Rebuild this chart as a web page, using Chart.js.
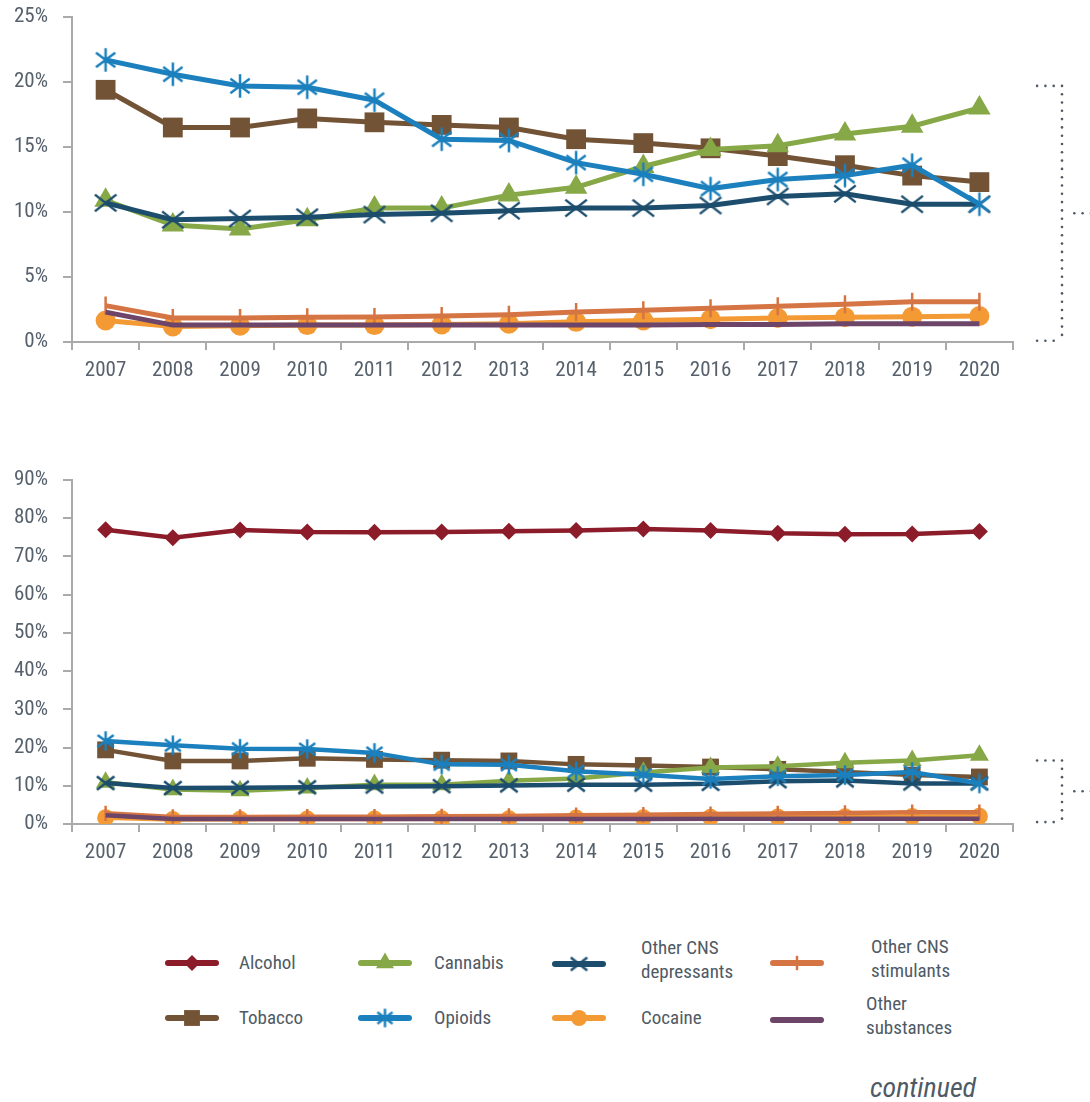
<!DOCTYPE html>
<html>
<head>
<meta charset="utf-8">
<script src="https://cdn.jsdelivr.net/npm/chart.js@4.4.0/dist/chart.umd.min.js"></script>
<style>
  html, body { margin: 0; padding: 0; background: #fff; }
  body {
    width: 1090px; height: 1102px; position: relative; overflow: hidden;
    font-family: "Liberation Sans Narrow", "Roboto Condensed", Roboto, sans-serif;
    color: #4f5a65;
  }
  .box { position: absolute; left: 0; width: 1090px; }
  #top-box { top: 0; height: 400px; }
  #bottom-box { top: 440px; height: 440px; }
  .lg-icon { position: absolute; transform: translateY(-50%); }
  .lg-text { position: absolute; transform: translateY(-50%); font-size: 19px; line-height: 24px; white-space: nowrap; }
  .continued { position: absolute; left: 870px; top: 1071px; font-size: 28px; font-style: italic; }
</style>
</head>
<body>
<div class="box" id="top-box"><canvas id="chart-top"></canvas></div>
<div class="box" id="bottom-box"><canvas id="chart-bottom"></canvas></div>
<div id="legend"></div>
<div class="continued">continued</div>
<script>
  const YEARS = ['2007', '2008', '2009', '2010', '2011', '2012', '2013', '2014', '2015', '2016', '2017', '2018', '2019', '2020'];

  const ALCOHOL = [77.0, 74.9, 76.9, 76.4, 76.3, 76.4, 76.6, 76.8, 77.2, 76.8, 76.1, 75.8, 75.9, 76.5];
  const TOBACCO = [19.4, 16.5, 16.5, 17.2, 16.9, 16.7, 16.5, 15.6, 15.3, 14.9, 14.3, 13.6, 12.8, 12.3];
  const CANNABIS = [10.9, 9.0, 8.7, 9.4, 10.3, 10.3, 11.3, 11.9, 13.5, 14.8, 15.1, 16.0, 16.6, 18.0];
  const OPIOIDS = [21.7, 20.6, 19.7, 19.6, 18.6, 15.6, 15.5, 13.8, 12.9, 11.8, 12.5, 12.8, 13.6, 10.6];
  const CNS_DEPRESSANTS = [10.7, 9.4, 9.5, 9.6, 9.8, 9.9, 10.1, 10.3, 10.3, 10.5, 11.2, 11.4, 10.6, 10.6];
  const COCAINE = [1.65, 1.2, 1.25, 1.3, 1.3, 1.35, 1.4, 1.55, 1.65, 1.75, 1.85, 1.9, 1.95, 2.0];
  const CNS_STIMULANTS = [2.8, 1.85, 1.85, 1.9, 1.92, 2.0, 2.1, 2.3, 2.45, 2.6, 2.75, 2.9, 3.1, 3.1];
  const OTHER = [2.3, 1.3, 1.3, 1.3, 1.3, 1.3, 1.3, 1.3, 1.3, 1.35, 1.35, 1.4, 1.4, 1.4];

  const TOP_MAX = 25;
  const TOP_STEP = 5;
  const BOTTOM_MAX = 90;
  const BOTTOM_STEP = 10;

  const AXIS_COLOR = '#aaaaaa';
  const TEXT_COLOR = '#56616c';
  const FONT_FAMILY = '"Liberation Sans Narrow", "Roboto Condensed", Roboto, sans-serif';

  // custom markers (asterisk for opioids, x for depressants)
  function spokeMarker(size, color, lw, withVertical, dx, dy) {
    const c = document.createElement('canvas');
    c.width = size; c.height = size;
    const g = c.getContext('2d');
    const h = size / 2;
    const r = h - lw / 2;
    g.strokeStyle = color;
    g.lineWidth = lw;
    g.lineCap = 'butt';
    g.beginPath();
    if (withVertical) { g.moveTo(h, h - r); g.lineTo(h, h + r); }
    g.moveTo(h - r * dx, h - r * dy); g.lineTo(h + r * dx, h + r * dy);
    g.moveTo(h - r * dx, h + r * dy); g.lineTo(h + r * dx, h - r * dy);
    g.stroke();
    return c;
  }

  const SERIES = [
    { key: 'alcohol', label: 'Alcohol', data: ALCOHOL, color: '#8c1c2a', order: 0 },
    { key: 'tobacco', label: 'Tobacco', data: TOBACCO, color: '#735335', order: 4 },
    { key: 'cannabis', label: 'Cannabis', data: CANNABIS, color: '#87a847', order: 3 },
    { key: 'opioids', label: 'Opioids', data: OPIOIDS, color: '#1b80bd', order: 1 },
    { key: 'depressants', label: 'Other CNS depressants', data: CNS_DEPRESSANTS, color: '#1c4d6d', order: 2 },
    { key: 'cocaine', label: 'Cocaine', data: COCAINE, color: '#f39a35', order: 7 },
    { key: 'stimulants', label: 'Other CNS stimulants', data: CNS_STIMULANTS, color: '#d67544', order: 6 },
    { key: 'other', label: 'Other substances', data: OTHER, color: '#6c4569', order: 5 },
  ];

  function markerFor(key, color, scale) {
    switch (key) {
      case 'alcohol': return { pointStyle: 'rectRot', pointRadius: 10 * scale, pointBorderWidth: 0 };
      case 'tobacco': return { pointStyle: 'rect', pointRadius: 14 * scale, pointBorderWidth: 0 };
      case 'cannabis': return { pointStyle: 'triangle', pointRadius: 13 * scale, pointBorderWidth: 0 };
      case 'opioids': return { pointStyle: spokeMarker(Math.round(26 * scale), color, 2.5, true, 0.82, 0.62), pointRadius: 12 * scale };
      case 'depressants': return { pointStyle: spokeMarker(Math.round(24 * scale), color, 2.5, false, 1, 0.78), pointRadius: 12 * scale };
      case 'cocaine': return { pointStyle: 'circle', pointRadius: 10 * scale, pointBorderWidth: 0 };
      case 'stimulants': return { pointStyle: 'line', pointRadius: 9 * scale, pointRotation: 90, pointBorderWidth: 2.5 };
      default: return { pointStyle: 'circle', pointRadius: 0, pointBorderWidth: 0 };
    }
  }

  function makeDatasets(keys, lineWidth, scale) {
    return SERIES.filter((s) => keys.includes(s.key)).map((s) => ({
      label: s.label,
      data: s.data,
      borderColor: s.color,
      backgroundColor: s.color,
      pointBackgroundColor: s.color,
      pointBorderColor: s.color,
      borderWidth: lineWidth,
      tension: 0,
      order: s.order,
      ...markerFor(s.key, s.color, scale),
    }));
  }

  // dotted bracket to the right of the plot
  const bracketPlugin = {
    id: 'bracket',
    afterDraw(chart, _args, opts) {
      if (!opts || opts.from === undefined) return;
      const { ctx, chartArea, scales } = chart;
      const yTop = scales.y.getPixelForValue(opts.from);
      const yBot = scales.y.getPixelForValue(opts.to);
      const xv = chartArea.right + 49;
      const gap = 8.3;
      const dot = (x, y) => { ctx.beginPath(); ctx.arc(x, y, 1.3, 0, Math.PI * 2); ctx.fill(); };
      ctx.save();
      ctx.fillStyle = '#4f5a66';
      for (let y = yTop; y <= yBot + 0.5; y += gap) dot(xv, y);
      for (let i = 1; i <= 3; i++) { dot(xv - i * gap, yTop); dot(xv - i * gap, yBot); }
      const ym = (yTop + yBot) / 2;
      for (let i = 1; i <= 4; i++) dot(xv + 4 + i * gap, ym);
      ctx.restore();
    },
  };

  function makeChart(id, datasets, max, step, xHeight, padTop, bracket) {
    return new Chart(document.getElementById(id), {
      type: 'line',
      data: { labels: YEARS, datasets },
      plugins: [bracketPlugin],
      options: {
        responsive: true,
        maintainAspectRatio: false,
        animation: false,
        layout: { padding: { top: padTop, right: 77, left: 0, bottom: 0 } },
        plugins: { legend: { display: false }, tooltip: { enabled: false }, bracket },
        scales: {
          x: {
            offset: true,
            grid: { offset: true, drawOnChartArea: false, tickLength: 8, color: AXIS_COLOR, lineWidth: 2 },
            border: { color: AXIS_COLOR, width: 2 },
            ticks: { color: TEXT_COLOR, font: { family: FONT_FAMILY, size: 21 }, padding: 8, maxRotation: 0, autoSkip: false },
            afterFit(s) { s.height = xHeight; s.paddingLeft = 0; s.paddingRight = 0; },
          },
          y: {
            min: 0,
            max,
            grid: { drawOnChartArea: false, tickLength: 9, color: AXIS_COLOR, lineWidth: 2 },
            border: { color: AXIS_COLOR, width: 2 },
            ticks: { stepSize: step, color: TEXT_COLOR, font: { family: FONT_FAMILY, size: 21 }, padding: 15, callback: (v) => v + '%' },
            afterFit(s) { s.width = 72; s.paddingTop = 0; s.paddingBottom = 0; },
          },
        },
      },
    });
  }

  makeChart('chart-top', makeDatasets(['tobacco', 'cannabis', 'opioids', 'depressants', 'cocaine', 'stimulants', 'other'], 5, 1),
    TOP_MAX, TOP_STEP, 58, 13, { from: 19.7, to: 0.1 });
  makeChart('chart-bottom', makeDatasets(SERIES.map((s) => s.key), 4.5, 0.85),
    BOTTOM_MAX, BOTTOM_STEP, 56, 40, { from: 16.6, to: 0.5 });

  // legend
  const LEGEND = [
    { key: 'alcohol', text: 'Alcohol', icon: 165, label: 239, y: 963 },
    { key: 'cannabis', text: 'Cannabis', icon: 358, label: 434, y: 963 },
    { key: 'depressants', text: 'Other CNS<br>depressants', icon: 552, label: 641, y: 960 },
    { key: 'stimulants', text: 'Other CNS<br>stimulants', icon: 770, label: 871, y: 959 },
    { key: 'tobacco', text: 'Tobacco', icon: 165, label: 239, y: 1018 },
    { key: 'opioids', text: 'Opioids', icon: 358, label: 434, y: 1018 },
    { key: 'cocaine', text: 'Cocaine', icon: 552, label: 641, y: 1018 },
    { key: 'other', text: 'Other<br>substances', icon: 770, label: 866, y: 1016 },
  ];

  const legendRoot = document.getElementById('legend');
  LEGEND.forEach((item) => {
    const s = SERIES.find((x) => x.key === item.key);
    const icon = document.createElement('canvas');
    icon.width = 56; icon.height = 30;
    icon.className = 'lg-icon';
    icon.style.left = (item.icon - 1) + 'px';
    icon.style.top = (item.key === 'depressants' || item.key === 'stimulants' || item.key === 'other' ? item.y + 4 : item.y) + 'px';
    const g = icon.getContext('2d');
    g.strokeStyle = s.color; g.fillStyle = s.color;
    g.lineWidth = 6; g.lineCap = 'round';
    g.beginPath(); g.moveTo(4, 15); g.lineTo(52, 15); g.stroke();
    const m = markerFor(item.key, s.color, 0.8);
    if (m.pointRadius > 0 && Chart.helpers && Chart.helpers.drawPoint) {
      g.lineWidth = m.pointBorderWidth || 2;
      g.lineCap = 'butt';
      Chart.helpers.drawPoint(g, { pointStyle: m.pointStyle, radius: m.pointRadius, rotation: m.pointRotation || 0, borderWidth: m.pointBorderWidth || 0 }, 28, 15);
    }
    legendRoot.appendChild(icon);

    const label = document.createElement('div');
    label.className = 'lg-text';
    label.style.left = item.label + 'px';
    label.style.top = item.y + 'px';
    label.innerHTML = item.text;
    legendRoot.appendChild(label);
  });
</script>
</body>
</html>
